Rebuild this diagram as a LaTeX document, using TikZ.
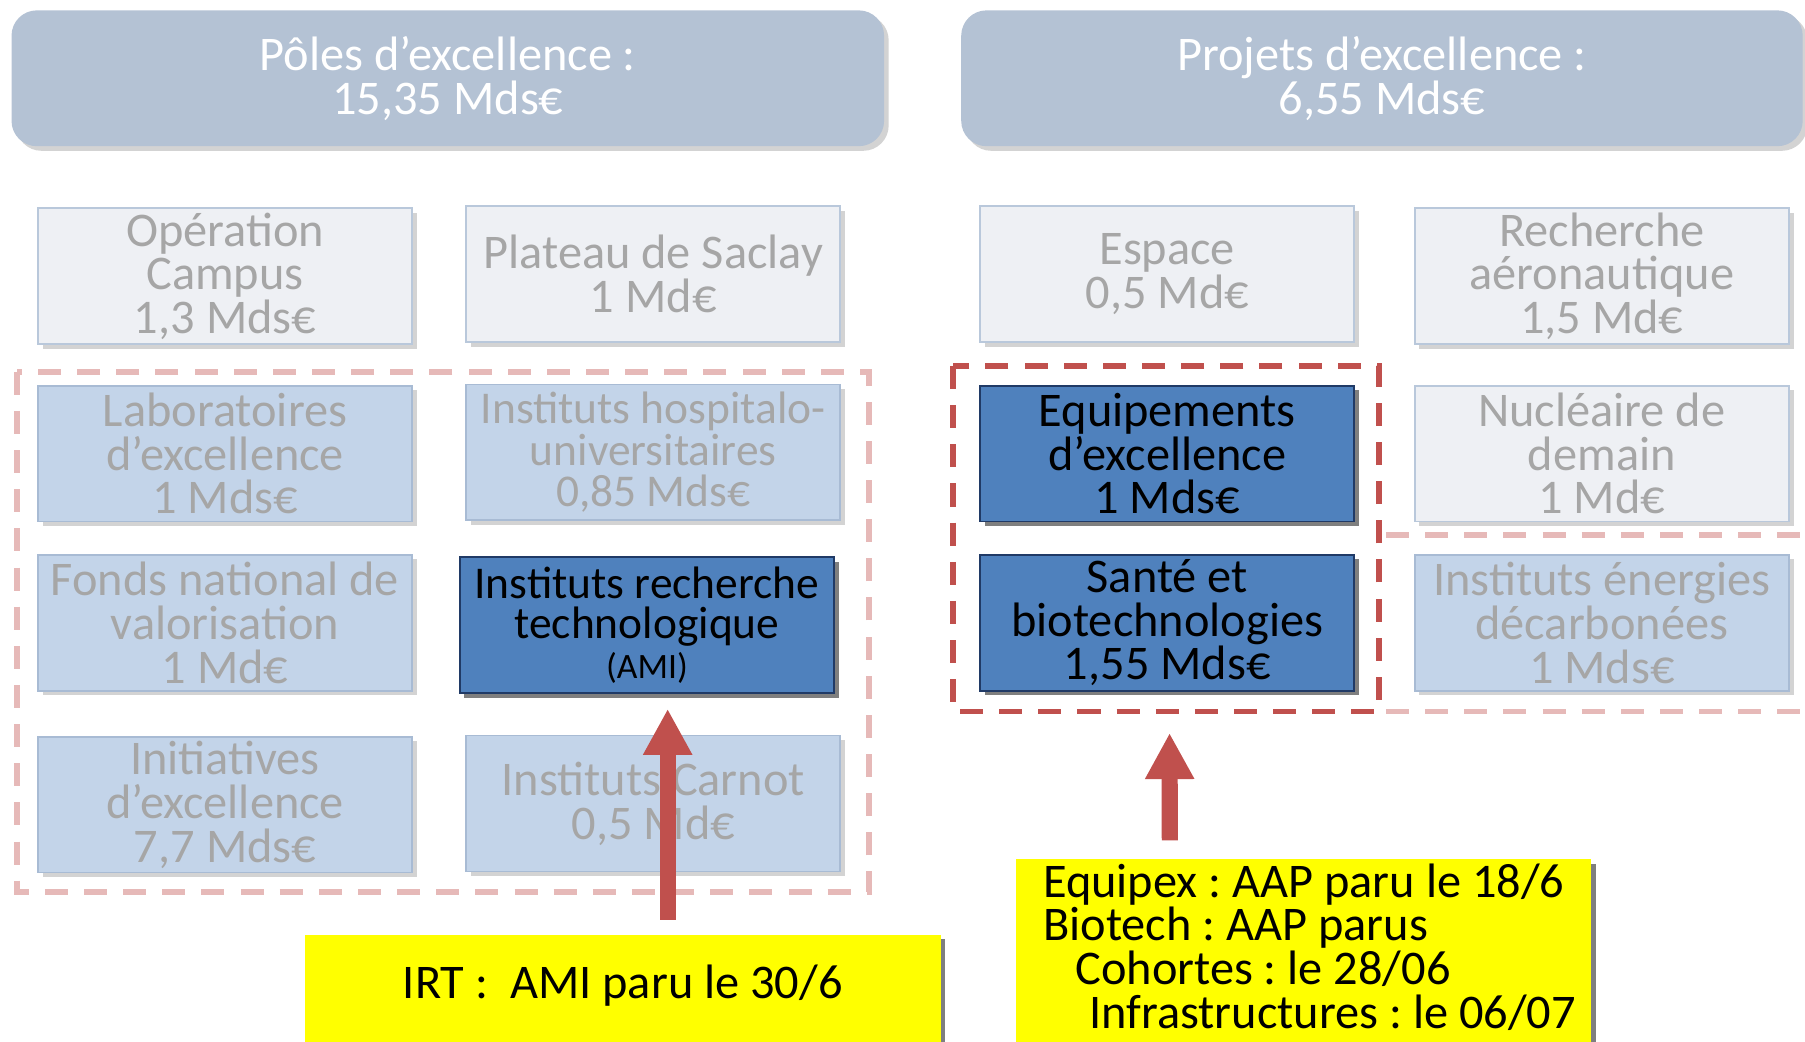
\documentclass[tikz,border=0pt]{standalone}
\usepackage{fontspec}
\setmainfont{Carlito}
\frenchspacing
\usetikzlibrary{shadows,arrows.meta}
\definecolor{hdr}{HTML}{B4C2D4}
\definecolor{lgfill}{HTML}{EEF0F4}
\definecolor{lgborder}{HTML}{B9C8DB}
\definecolor{lbfill}{HTML}{C3D4E9}
\definecolor{lbborder}{HTML}{A8BBD4}
\definecolor{dbfill}{HTML}{4F81BD}
\definecolor{dbborder}{HTML}{203A66}
\definecolor{txtgray}{HTML}{A6A6A6}
\definecolor{shlight}{HTML}{D3D3D3}
\definecolor{shdark}{HTML}{7F7F7F}
\definecolor{pinkd}{HTML}{E6B9B8}
\definecolor{redd}{HTML}{C0504D}
\definecolor{noteyellow}{HTML}{FFFF00}
\tikzset{
  boxbase/.style={rectangle, line width=1.5pt, minimum width=325pt, minimum height=118pt,
    align=center, inner sep=0pt, font=\fontsize{42}{38}\selectfont},
  greybox/.style={boxbase, fill=lgfill, draw=lgborder, text=txtgray,
    drop shadow={shadow xshift=4pt, shadow yshift=-4pt, fill=shlight, opacity=1}},
  bluebox/.style={boxbase, fill=lbfill, draw=lbborder, text=txtgray,
    drop shadow={shadow xshift=4pt, shadow yshift=-4pt, fill=shlight, opacity=1}},
  darkbox/.style={boxbase, fill=dbfill, draw=dbborder, text=black,
    drop shadow={shadow xshift=4pt, shadow yshift=-4pt, fill=shdark, opacity=1}},
  header/.style={rectangle, rounded corners=22pt, fill=hdr, text=white, minimum height=118pt,
    align=center, inner sep=0pt, font=\fontsize{42}{38}\selectfont,
    drop shadow={shadow xshift=4pt, shadow yshift=-4pt, fill=shlight, opacity=1}},
  note/.style={rectangle, fill=noteyellow, inner sep=0pt,
    drop shadow={shadow xshift=4pt, shadow yshift=-4pt, fill=shdark, opacity=1}},
  notetext/.style={inner sep=0pt, align=left, font=\fontsize{42}{38}\selectfont},
  pinkdash/.style={draw=pinkd, line width=5pt, dash pattern=on 20pt off 14pt},
  reddash/.style={draw=redd, line width=5pt, dash pattern=on 20pt off 14pt},
  bigarrow/.style={draw=redd, line width=14pt, -{Triangle[width=40pt,length=40pt]}}
}
\begin{document}
\begin{tikzpicture}[x=1pt,y=-1pt]
\useasboundingbox (0,0) rectangle (1568,905);
% headers
\node[header, minimum width=758pt] (h1) at (389,68) {Pôles d’excellence :\\15,35 Mds€};
\node[header, minimum width=731pt] (h2) at (1200.5,68) {Projets d’excellence :\\6,55 Mds€};
% dashed groups (pink behind)
\draw[pinkdash] (15,323) rectangle (755,775);
\draw[pinkdash] (1204,465) -- (1580,465);
\draw[pinkdash] (1204,618) -- (1580,618);
% row 1
\node[greybox] (oc) at (195.5,240) {Opération\\Campus\\1,3 Mds€};
\node[greybox] (ps) at (567.5,238) {Plateau de Saclay\\1 Md€};
\node[greybox] (es) at (1014,238) {Espace\\0,5 Md€};
\node[greybox] (ra) at (1391.5,240) {Recherche\\aéronautique\\1,5 Md€};
% row 2
\node[bluebox] (le) at (195.5,394) {Laboratoires\\d’excellence\\1 Mds€};
\node[bluebox, font=\fontsize{39.5}{36}\selectfont] (ih) at (567.5,393) {Instituts hospitalo-\\universitaires\\0,85 Mds€};
\node[darkbox] (eq) at (1014,394) {Equipements\\d’excellence\\1 Mds€};
\node[greybox] (nd) at (1391.5,394) {Nucléaire de\\demain\\1 Md€};
% row 3
\node[bluebox] (fn) at (195.5,541) {Fonds national de\\valorisation\\1 Md€};
\node[bluebox] (ied) at (1391.5,541) {Instituts énergies\\décarbonées\\1 Mds€};
\node[darkbox] (sb) at (1014,541) {Santé et\\biotechnologies\\1,55 Mds€};
% row 4
\node[bluebox] (ie) at (195.5,699) {Initiatives\\d’excellence\\7,7 Mds€};
\node[bluebox] (ic) at (567.5,698) {Instituts Carnot\\0,5 Md€};
% IRT box on top
\node[darkbox, font=\fontsize{39.5}{35}\selectfont] (irt) at (562,543) {Instituts recherche\\technologique\\{\fontsize{31}{34}\selectfont (AMI)}};
% red dashed group
\draw[reddash] (828,318) rectangle (1198,618);
% notes
\node[note, minimum width=552pt, minimum height=95pt] (n1) at (541,859.5) {};
\node[notetext] (n1t) at ([yshift=3pt]n1.center) {IRT :\ \ AMI paru le 30/6};
\node[note, minimum width=500pt, minimum height=165pt, anchor=north west] (n2) at (882,746) {};
\node[notetext, anchor=west] (n2t) at ([xshift=24pt,yshift=6pt]n2.west)
  {Equipex : AAP paru le 18/6\\Biotech : AAP parus\\\hspace*{28pt}Cohortes : le 28/06\\\hspace*{40pt}Infrastructures : le 06/07};
% arrows
\draw[bigarrow] ([xshift=39pt,yshift=13pt]n1.north) -- ([xshift=18pt,yshift=-13pt]irt.south);
\draw[bigarrow] ([xshift=-116pt,yshift=16pt]n2.north) -- ([xshift=2pt,yshift=-36pt]sb.south);
\end{tikzpicture}
\end{document}
